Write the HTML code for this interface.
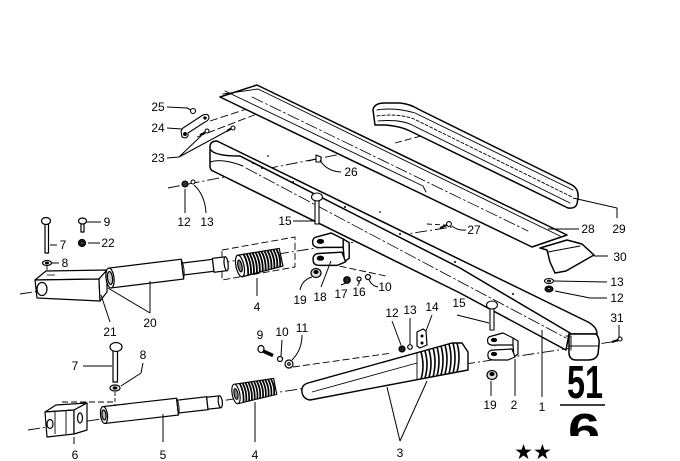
<!DOCTYPE html>
<html><head><meta charset="utf-8"><style>
html,body{margin:0;padding:0;background:#fff;}
svg{display:block}
.t{font-family:"Liberation Sans",Arial,sans-serif;font-size:12px;fill:#000;text-anchor:middle}
</style></head><body>
<svg width="680" height="461" viewBox="0 0 680 461" xmlns="http://www.w3.org/2000/svg">
<rect width="680" height="461" fill="#fff"/>

<g fill="none" stroke="#000" stroke-width="0.9">
  <path d="M28,430 L618,341" stroke-dasharray="12,3,2,3"/>
  <path d="M20,294 L452,227" stroke-dasharray="12,3,2,3"/>
  <path d="M168,188 L362,150" stroke-dasharray="12,3,2,3"/>
  <path d="M197,137 L262,112" stroke-dasharray="8,3"/>
  <path d="M210,121 L262,104" stroke-dasharray="8,3"/>
  <path d="M222,250 L295,237 L295,267 L222,280 Z" stroke-dasharray="7,3"/>
  <path d="M320,262 L386,276" stroke-dasharray="7,3"/>
  <path d="M293,367 L392,353" stroke-dasharray="7,3"/>
  <path d="M115,392 L115,407" stroke-dasharray="4,2"/>
  <path d="M47,266 L47,279" stroke-dasharray="4,2"/>
  <path d="M62,402 L113,402" stroke-dasharray="6,3"/>
  <path d="M395,143 L440,131" stroke-dasharray="7,3"/>
  <path d="M427,224 L445,225" stroke-dasharray="5,3"/>
</g>

<g fill="#fff" stroke="#000" stroke-width="1.5" stroke-linejoin="round" stroke-linecap="round">
  <path d="M220,97 L257,85 L567,235 L532,247 Z"/>
  <path d="M223,94 L258,89 L560,236" fill="none" stroke-width="0.9"/>
  <path d="M225,91 L423,186 L426,192" fill="none" stroke-width="0.9"/>
  <path d="M252,97 L528,231" fill="none" stroke-width="0.8" stroke-dasharray="12,3,2,3"/>

  <path d="M375,125 L373,110 Q374,103 385,103 L400,103 Q410,104 418,109 L572,185 Q579,189 578,198 L577,204 Q575,209 568,208 L410,131 Q400,126 385,125 Z"/>
  <path d="M377,110 Q395,107 415,113 L573,190" fill="none" stroke-width="0.9"/>
  <path d="M377,116 Q398,113 414,119 L572,197" fill="none" stroke-width="0.9" stroke-dasharray="3,2"/>
  <path d="M378,121 Q400,119 412,125 L570,203" fill="none" stroke-width="0.9"/>

  <path d="M540,248 L567,240 L582,244 L594,255 L566,271 L555,273 L550,262 L547,250 Z"/>
  <path d="M548,252 L580,246" fill="none" stroke-width="0.9"/>

  <path d="M210,166 L210,147 Q210,141 217,141 L588,322 Q597,327 597,334 L569,334 L566,350 L460,293 L213,171 Q210,170 210,166 Z"/>
  <path d="M211,150 Q215,156 240,156 L460,268 L570,333" fill="none"/>
  <path d="M210,162 Q222,158 243,166" fill="none" stroke-width="1"/>
  <path d="M246,168 L566,338" fill="none" stroke-width="0.8" stroke-dasharray="12,3,2,3"/>
  <path d="M569,334 L596,334 Q600,338 599,345 L598,354 Q596,360 588,360 L576,360 Q570,360 569,354 Z"/>
  <path d="M570,346 L598,346" fill="none" stroke-width="1"/>
  <path d="M566,336 L571,336 L571,350" fill="none" stroke-width="1"/>
</g>
<g fill="#000">
  <circle cx="253" cy="163" r="1"/><circle cx="262" cy="168" r="1"/><circle cx="293" cy="182" r="1"/>
  <circle cx="345" cy="207" r="1"/><circle cx="400" cy="234" r="1"/><circle cx="455" cy="262" r="1"/>
  <circle cx="513" cy="294" r="1"/><circle cx="268" cy="156" r="0.9"/><circle cx="380" cy="212" r="0.9"/>
</g>

<g fill="#fff" stroke="#000" stroke-width="1.1" stroke-linejoin="round">
  <path d="M187,108 L191,110" fill="none"/><circle cx="193" cy="111" r="2.5"/>
  <path d="M183,128 L203,115 Q209,113 209,118 Q208,121 205,122 L188,133 L188,136 Q186,139 182,137 L181,131 Z"/>
  <circle cx="185" cy="134" r="1.4" fill="#000"/><circle cx="205" cy="118" r="1.1" fill="#000"/>
  <path d="M200,135 L206,132" fill="none" stroke-width="2"/><circle cx="207" cy="131" r="2"/>
  <path d="M227,131 L232,128" fill="none" stroke-width="2"/><circle cx="233" cy="128" r="2"/>
  <circle cx="185" cy="184" r="3" fill="#333"/><circle cx="193" cy="182" r="2"/>
  <path d="M308,161 L316,159 M316,155 L316,162 L321,162 L321,157 Z"/>
  <rect x="315" y="200" width="4" height="24"/>
  <ellipse cx="317" cy="197" rx="5.5" ry="4"/>
  <rect x="490" y="308" width="4" height="22"/>
  <ellipse cx="492" cy="305" rx="5.5" ry="4"/>
  <path d="M440,228 L447,225" fill="none" stroke-width="2"/><circle cx="449" cy="224" r="2.4"/>
  <ellipse cx="549" cy="281" rx="4.5" ry="2.5"/><ellipse cx="549" cy="281" rx="1.5" ry="0.8"/>
  <ellipse cx="549" cy="289" rx="4" ry="3" fill="#222"/><ellipse cx="549" cy="288.5" rx="1.5" ry="1" fill="#fff"/>
  <path d="M612,342 L618,340" fill="none" stroke-width="2"/><circle cx="620" cy="339" r="2"/>
</g>

<g fill="#fff" stroke="#000" stroke-width="1.2" stroke-linejoin="round">
  <rect x="45" y="224" width="3.5" height="29"/><ellipse cx="46" cy="221" rx="4.5" ry="3.5"/>
  <ellipse cx="47" cy="263" rx="4.5" ry="2.5"/><ellipse cx="47" cy="263" rx="1.5" ry="0.8" fill="#000"/>
  <rect x="81" y="223" width="3" height="9"/><ellipse cx="82.5" cy="221" rx="4" ry="3"/>
  <circle cx="82" cy="243" r="3.5" fill="#222"/><circle cx="82" cy="243" r="1.2"/>
  <path d="M35,280 L46,271 L107,270 L99,279 Z"/>
  <path d="M35,280 L99,279 L100,301 L37,298 Z"/>
  <path d="M99,279 L107,270 L107,292 L100,301 Z"/>
  <ellipse cx="42" cy="289" rx="5" ry="6.5"/>
  <path d="M47,275 L55,275" fill="none" stroke-width="0.8"/>
  <g transform="translate(110,278) rotate(-7)">
    <path d="M0,-10 L73,-10 L73,10 L0,10 Z"/>
    <path d="M73,-6 L104,-6 L104,6 L73,6 Z"/>
    <path d="M104,-7 L117,-7 L117,7 L104,7 Z"/>
    <ellipse cx="117" cy="0" rx="2" ry="7"/>
    <ellipse cx="0" cy="0" rx="4" ry="10"/>
    <ellipse cx="0" cy="0" rx="2.5" ry="6.5" fill="#ccc"/>
    <path d="M73,-10 Q76,0 73,10" fill="none" stroke-width="0.9"/>
  </g>
  <g transform="translate(240,266) rotate(-12)">
    <path d="M0,-11 L42,-9 L42,9 L0,11 Z"/>
    <path fill="none" stroke-width="1.8" d="M6,-10.7 Q9,0 6,10.7 M9,-10.6 Q12,0 9,10.6 M12,-10.4 Q15,0 12,10.4 M15,-10.3 Q18,0 15,10.3 M18,-10.1 Q21,0 18,10.1 M21,-10 Q24,0 21,10 M24,-9.8 Q27,0 24,9.8 M27,-9.7 Q30,0 27,9.7 M30,-9.6 Q33,0 30,9.6 M33,-9.4 Q36,0 33,9.4 M36,-9.3 Q39,0 36,9.3 M39,-9.1 Q42,0 39,9.1"/>
    <ellipse cx="0" cy="0" rx="4" ry="11"/>
    <ellipse cx="0" cy="0" rx="2" ry="6" fill="#888"/>
  </g>
  <g transform="translate(312,233) scale(1.2) translate(-487,-333)">
    <path d="M488,343 Q486,337 492,336 L503,333 L513,338 L517,343 L513,345 L497,345 Q490,346 488,343 Z"/>
    <path d="M513,338 L518,341 L518,354 L514,357 L513,345 Z"/>
    <path d="M488,356 Q487,350 494,350 L512,349 L515,357 L508,360 L494,360 Q488,360 488,356 Z"/>
    <ellipse cx="494" cy="340" rx="2.5" ry="1.5" fill="#000"/><ellipse cx="494" cy="354" rx="2.5" ry="1.5" fill="#000"/>
  </g>
  <ellipse cx="316" cy="273" rx="5" ry="4.5" fill="#ddd"/><ellipse cx="316" cy="272" rx="2" ry="1.5" fill="#000"/>
  <circle cx="347" cy="280" r="3.3" fill="#222"/>
  <circle cx="359" cy="279" r="2"/><path d="M359,281 L359,284" fill="none"/>
  <circle cx="368" cy="277" r="2.5"/>
</g>

<g fill="#fff" stroke="#000" stroke-width="1.2" stroke-linejoin="round">
  <path d="M45,412 L56,405 L87,403 L74,410 Z"/>
  <path d="M45,412 L74,410 L74,434 L47,437 Z"/>
  <path d="M74,410 L87,403 L87,430 L74,434 Z"/>
  <path d="M55,411 L55,434 M66,410 L66,434" fill="none" stroke-width="0.9"/>
  <ellipse cx="50" cy="424" rx="3" ry="4.5"/>
  <ellipse cx="80" cy="418" rx="2.5" ry="5"/>
  <g transform="translate(104,415) rotate(-6.5)">
    <path d="M0,-8.5 L74,-8.5 L74,8.5 L0,8.5 Z"/>
    <path d="M74,-6.5 L104,-6.5 L104,6.5 L74,6.5 Z"/>
    <path d="M104,-6 L117,-6 L117,6 L104,6 Z"/>
    <ellipse cx="117" cy="0" rx="2" ry="6"/>
    <ellipse cx="0" cy="0" rx="3.5" ry="8.5"/>
    <ellipse cx="0" cy="0" rx="2" ry="5" fill="#bbb"/>
    <path d="M74,-8.5 Q77,0 74,8.5" fill="none" stroke-width="0.9"/>
  </g>
  <rect x="113" y="350" width="4.5" height="32"/><ellipse cx="116" cy="347" rx="6" ry="4.5"/>
  <ellipse cx="115" cy="388" rx="5" ry="3"/><ellipse cx="115" cy="388" rx="1.8" ry="1" fill="#000"/>
  <g transform="translate(236,394) rotate(-11) scale(0.95,0.9)">
    <path d="M0,-11 L42,-9 L42,9 L0,11 Z"/>
    <path fill="none" stroke-width="1.8" d="M6,-10.7 Q9,0 6,10.7 M9,-10.6 Q12,0 9,10.6 M12,-10.4 Q15,0 12,10.4 M15,-10.3 Q18,0 15,10.3 M18,-10.1 Q21,0 18,10.1 M21,-10 Q24,0 21,10 M24,-9.8 Q27,0 24,9.8 M27,-9.7 Q30,0 27,9.7 M30,-9.6 Q33,0 30,9.6 M33,-9.4 Q36,0 33,9.4 M36,-9.3 Q39,0 36,9.3 M39,-9.1 Q42,0 39,9.1"/>
    <ellipse cx="0" cy="0" rx="4" ry="11"/>
    <ellipse cx="0" cy="0" rx="2" ry="6" fill="#888"/>
  </g>
  <path d="M263,351 L273,355.5" fill="none" stroke-width="3.5"/>
  <ellipse cx="261" cy="349" rx="3" ry="3.5"/>
  <circle cx="280" cy="359" r="2.5"/>
  <circle cx="289" cy="364" r="4"/><circle cx="289" cy="364" r="1.3"/>
  <path d="M302,392 Q301,385 308,383 L452,343 L462,343 L468,352 L468,370 L310,400 Q303,399 302,392 Z" stroke-width="1.4"/>
  <path d="M312,392 L417,363 M417,352 L417,380" fill="none" stroke-width="0.9"/>
  <path fill="none" stroke-width="1.6" d="M421,352 Q425,366 421,379 M425,351 Q429,365 425,378 M429,350 Q433,364 429,377 M433,348 Q437,362 433,377 M437,347 Q441,361 437,376 M441,346 Q445,360 441,375 M445,345 Q449,359 445,374 M449,344 Q453,358 449,374 M453,343 Q457,358 453,373 M457,343 Q461,357 457,372"/>
  <path d="M417,332 L423,329 L426,331 L427,345 L420,348 L417,346 Z"/>
  <circle cx="422" cy="336" r="0.9" fill="#000"/><circle cx="422" cy="343" r="0.9" fill="#000"/>
  <circle cx="402" cy="349" r="3" fill="#222"/>
  <circle cx="410" cy="347" r="2.3"/>
  <path d="M488,343 Q486,337 492,336 L503,333 L513,338 L517,343 L513,345 L497,345 Q490,346 488,343 Z"/>
  <path d="M513,338 L518,341 L518,354 L514,357 L513,345 Z"/>
  <path d="M488,356 Q487,350 494,350 L512,349 L515,357 L508,360 L494,360 Q488,360 488,356 Z"/>
  <ellipse cx="494" cy="340" rx="2.5" ry="1.5" fill="#000"/><ellipse cx="494" cy="354" rx="2.5" ry="1.5" fill="#000"/>
  <ellipse cx="492" cy="375" rx="5" ry="4.5" fill="#ddd"/><ellipse cx="492" cy="374" rx="2" ry="1.5" fill="#000"/>
</g>

<g fill="none" stroke="#000" stroke-width="1">
  <path d="M167,107 L188,108"/>
  <path d="M167,128 L182,129"/>
  <path d="M167,158 L179,157 L201,136 M179,157 L229,130"/>
  <path d="M185,189 L185,213"/>
  <path d="M194,185 Q205,195 206,213"/>
  <path d="M320,160 Q326,171 341,172"/>
  <path d="M293,221 L314,221"/>
  <path d="M87,222 L101,222"/>
  <path d="M88,243 L100,243"/>
  <path d="M50,245 L57,245"/>
  <path d="M52,263 L59,263"/>
  <path d="M110,322 L101,295"/>
  <path d="M150,313 L150,281 M150,313 L108,288"/>
  <path d="M257,296 L257,278"/>
  <path d="M300,290 Q302,280 312,277"/>
  <path d="M321,287 L331,261"/>
  <path d="M341,285 L346,283"/>
  <path d="M358,284 L358,286"/>
  <path d="M369,280 Q372,286 378,287"/>
  <path d="M452,226 Q458,231 466,230"/>
  <path d="M548,229 L579,229"/>
  <path d="M573,198 L617,208 L617,218"/>
  <path d="M594,256 L608,256"/>
  <path d="M554,281 L607,282"/>
  <path d="M555,291 L590,298 L607,298"/>
  <path d="M619,325 L619,338"/>
  <path d="M432,315 L426,331"/>
  <path d="M410,318 L410,344"/>
  <path d="M392,321 L401,345"/>
  <path d="M457,315 L489,323"/>
  <path d="M282,340 L281,356"/>
  <path d="M302,335 Q302,350 292,360"/>
  <path d="M83,366 L112,366"/>
  <path d="M143,363 L141,373 L121,386"/>
  <path d="M74,437 L74,444"/>
  <path d="M163,414 L163,442"/>
  <path d="M255,402 L255,442"/>
  <path d="M400,441 L387,387 M400,441 L427,381"/>
  <path d="M491,381 L491,396"/>
  <path d="M515,359 L515,396"/>
  <path d="M542,330 L542,397"/>
</g>

<text class="t" x="158" y="111">25</text>
<text class="t" x="158" y="132">24</text>
<text class="t" x="158" y="162">23</text>
<text class="t" x="184" y="226">12</text>
<text class="t" x="207" y="226">13</text>
<text class="t" x="351" y="176">26</text>
<text class="t" x="285" y="225">15</text>
<text class="t" x="107" y="226">9</text>
<text class="t" x="63" y="249">7</text>
<text class="t" x="108" y="247">22</text>
<text class="t" x="65" y="267">8</text>
<text class="t" x="110" y="336">21</text>
<text class="t" x="150" y="327">20</text>
<text class="t" x="257" y="311">4</text>
<text class="t" x="300" y="304">19</text>
<text class="t" x="320" y="301">18</text>
<text class="t" x="341" y="298">17</text>
<text class="t" x="359" y="296">16</text>
<text class="t" x="385" y="291">10</text>
<text class="t" x="474" y="234">27</text>
<text class="t" x="588" y="233">28</text>
<text class="t" x="619" y="233">29</text>
<text class="t" x="620" y="261">30</text>
<text class="t" x="617" y="286">13</text>
<text class="t" x="617" y="302">12</text>
<text class="t" x="617" y="322">31</text>
<text class="t" x="432" y="311">14</text>
<text class="t" x="410" y="314">13</text>
<text class="t" x="392" y="317">12</text>
<text class="t" x="459" y="307">15</text>
<text class="t" x="260" y="339">9</text>
<text class="t" x="282" y="336">10</text>
<text class="t" x="302" y="332">11</text>
<text class="t" x="75" y="370">7</text>
<text class="t" x="143" y="359">8</text>
<text class="t" x="75" y="459">6</text>
<text class="t" x="163" y="459">5</text>
<text class="t" x="255" y="459">4</text>
<text class="t" x="400" y="457">3</text>
<text class="t" x="490" y="409">19</text>
<text class="t" x="514" y="409">2</text>
<text class="t" x="542" y="411">1</text>

<text x="567" y="398" font-family="Liberation Sans, Arial, sans-serif" font-weight="bold" font-size="46" textLength="36" lengthAdjust="spacingAndGlyphs" fill="#000">51</text>
<line x1="560" y1="405" x2="605" y2="405" stroke="#000" stroke-width="1.5"/>
<clipPath id="c6"><rect x="550" y="408" width="70" height="28"/></clipPath>
<text x="568" y="446" clip-path="url(#c6)" font-family="Liberation Sans, Arial, sans-serif" font-weight="bold" font-size="46" textLength="32" lengthAdjust="spacingAndGlyphs" fill="#000">6</text>
<text x="533" y="459" text-anchor="middle" font-family="DejaVu Sans, sans-serif" font-size="21" fill="#000">★★</text>
</svg>
</body></html>
